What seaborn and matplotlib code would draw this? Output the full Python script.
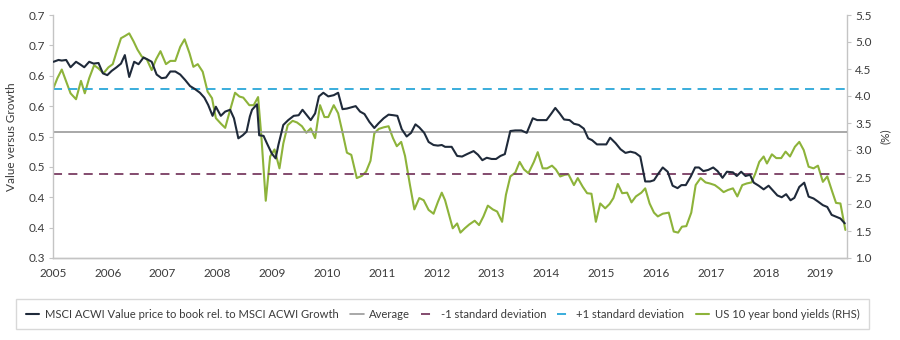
import numpy as np
import pandas as pd
import matplotlib
matplotlib.use("Agg")
import matplotlib.pyplot as plt
import seaborn as sns

# MSCI ACWI Value price-to-book relative to MSCI ACWI Growth (decimal year, ratio)
val_years = [
    2005.01, 2005.10, 2005.16, 2005.24, 2005.32, 2005.42, 2005.49, 2005.57, 2005.66, 2005.74,
    2005.83, 2005.91, 2005.99, 2006.07, 2006.16, 2006.24, 2006.31, 2006.39, 2006.48, 2006.56,
    2006.65, 2006.72, 2006.80, 2006.89, 2006.98, 2007.06, 2007.14, 2007.23, 2007.32, 2007.41,
    2007.50, 2007.59, 2007.68, 2007.76, 2007.83, 2007.91, 2007.97, 2008.06, 2008.14, 2008.23,
    2008.30, 2008.38, 2008.46, 2008.53, 2008.59, 2008.63, 2008.72, 2008.76, 2008.84, 2008.90,
    2008.99, 2009.06, 2009.11, 2009.20, 2009.29, 2009.39, 2009.48, 2009.55, 2009.63, 2009.70,
    2009.78, 2009.85, 2009.93, 2010.02, 2010.12, 2010.20, 2010.28, 2010.36, 2010.44, 2010.52,
    2010.60, 2010.68, 2010.77, 2010.86, 2010.94, 2011.03, 2011.12, 2011.21, 2011.28, 2011.36,
    2011.45, 2011.53, 2011.61, 2011.68, 2011.77, 2011.85, 2011.94, 2012.02, 2012.09, 2012.15,
    2012.27, 2012.37, 2012.46, 2012.55, 2012.67, 2012.75, 2012.83, 2012.91, 2013.00, 2013.08,
    2013.16, 2013.24, 2013.34, 2013.43, 2013.54, 2013.64, 2013.75, 2013.83, 2013.92, 2014.00,
    2014.09, 2014.16, 2014.24, 2014.32, 2014.42, 2014.50, 2014.59, 2014.68, 2014.76, 2014.83,
    2014.92, 2015.01, 2015.09, 2015.16, 2015.26, 2015.35, 2015.44, 2015.53, 2015.62, 2015.71,
    2015.80, 2015.89, 2015.96, 2016.04, 2016.12, 2016.21, 2016.30, 2016.39, 2016.46, 2016.54,
    2016.63, 2016.71, 2016.78, 2016.86, 2016.95, 2017.04, 2017.12, 2017.21, 2017.29, 2017.40,
    2017.47, 2017.55, 2017.63, 2017.71, 2017.78, 2017.87, 2017.96, 2018.05, 2018.13, 2018.21,
    2018.29, 2018.37, 2018.45, 2018.52, 2018.61, 2018.70, 2018.78, 2018.87, 2018.95, 2019.04,
    2019.12, 2019.20, 2019.28, 2019.36, 2019.44,
]
val_ratio = [
    0.623, 0.626, 0.625, 0.626, 0.614, 0.623, 0.619, 0.614, 0.623, 0.620,
    0.621, 0.604, 0.601, 0.608, 0.614, 0.620, 0.634, 0.598, 0.623, 0.619,
    0.630, 0.627, 0.623, 0.602, 0.596, 0.597, 0.607, 0.607, 0.602, 0.593,
    0.583, 0.578, 0.572, 0.564, 0.552, 0.534, 0.549, 0.534, 0.541, 0.544,
    0.530, 0.497, 0.502, 0.508, 0.533, 0.544, 0.553, 0.502, 0.501, 0.489,
    0.472, 0.464, 0.486, 0.519, 0.527, 0.534, 0.535, 0.544, 0.535, 0.527,
    0.538, 0.566, 0.572, 0.566, 0.568, 0.572, 0.545, 0.546, 0.548, 0.550,
    0.541, 0.537, 0.524, 0.514, 0.522, 0.530, 0.536, 0.535, 0.534, 0.512,
    0.500, 0.506, 0.520, 0.515, 0.506, 0.491, 0.486, 0.485, 0.486, 0.483,
    0.483, 0.468, 0.467, 0.471, 0.476, 0.470, 0.461, 0.465, 0.463, 0.463,
    0.468, 0.471, 0.509, 0.510, 0.510, 0.506, 0.530, 0.527, 0.527, 0.527,
    0.538, 0.547, 0.538, 0.528, 0.527, 0.521, 0.519, 0.513, 0.497, 0.494,
    0.487, 0.487, 0.487, 0.498, 0.489, 0.479, 0.473, 0.475, 0.473, 0.467,
    0.426, 0.426, 0.428, 0.439, 0.449, 0.442, 0.419, 0.415, 0.420, 0.420,
    0.434, 0.449, 0.449, 0.443, 0.445, 0.449, 0.443, 0.432, 0.442, 0.441,
    0.435, 0.442, 0.435, 0.437, 0.424, 0.419, 0.413, 0.419, 0.411, 0.403,
    0.400, 0.405, 0.395, 0.399, 0.417, 0.424, 0.401, 0.398, 0.393, 0.387,
    0.384, 0.371, 0.368, 0.365, 0.357,
]

# US 10 year Treasury yield, % (decimal year, yield)
bond_years = [
    2005.01, 2005.08, 2005.16, 2005.24, 2005.32, 2005.42, 2005.51, 2005.58, 2005.66, 2005.75,
    2005.83, 2005.92, 2006.01, 2006.09, 2006.16, 2006.24, 2006.31, 2006.39, 2006.47, 2006.54,
    2006.62, 2006.71, 2006.80, 2006.88, 2006.96, 2007.06, 2007.14, 2007.23, 2007.32, 2007.40,
    2007.49, 2007.56, 2007.64, 2007.73, 2007.82, 2007.90, 2007.97, 2008.06, 2008.14, 2008.23,
    2008.32, 2008.40, 2008.47, 2008.58, 2008.66, 2008.74, 2008.80, 2008.88, 2008.96, 2009.04,
    2009.13, 2009.20, 2009.28, 2009.37, 2009.45, 2009.54, 2009.62, 2009.70, 2009.78, 2009.87,
    2009.95, 2010.02, 2010.12, 2010.20, 2010.27, 2010.36, 2010.44, 2010.54, 2010.63, 2010.71,
    2010.79, 2010.86, 2010.94, 2011.03, 2011.12, 2011.20, 2011.27, 2011.35, 2011.42, 2011.51,
    2011.59, 2011.68, 2011.76, 2011.85, 2011.94, 2012.02, 2012.09, 2012.15, 2012.23, 2012.29,
    2012.37, 2012.43, 2012.51, 2012.59, 2012.69, 2012.77, 2012.85, 2012.93, 2013.02, 2013.10,
    2013.19, 2013.26, 2013.34, 2013.43, 2013.51, 2013.59, 2013.67, 2013.77, 2013.84, 2013.93,
    2014.01, 2014.10, 2014.17, 2014.25, 2014.33, 2014.40, 2014.50, 2014.57, 2014.66, 2014.74,
    2014.82, 2014.90, 2014.98, 2015.07, 2015.15, 2015.22, 2015.30, 2015.38, 2015.47, 2015.55,
    2015.63, 2015.73, 2015.80, 2015.88, 2015.96, 2016.03, 2016.12, 2016.23, 2016.32, 2016.40,
    2016.47, 2016.55, 2016.64, 2016.72, 2016.81, 2016.90, 2016.98, 2017.07, 2017.15, 2017.23,
    2017.31, 2017.40, 2017.48, 2017.57, 2017.65, 2017.74, 2017.81, 2017.88, 2017.96, 2018.02,
    2018.11, 2018.19, 2018.28, 2018.36, 2018.44, 2018.53, 2018.61, 2018.69, 2018.78, 2018.87,
    2018.95, 2019.04, 2019.12, 2019.21, 2019.28, 2019.36, 2019.45,
]
bond_yield = [
    4.15, 4.33, 4.49, 4.27, 4.05, 3.94, 4.28, 4.05, 4.33, 4.57,
    4.51, 4.42, 4.53, 4.59, 4.82, 5.07, 5.11, 5.16, 5.01, 4.86,
    4.73, 4.68, 4.48, 4.68, 4.83, 4.59, 4.65, 4.65, 4.91, 5.05,
    4.79, 4.54, 4.59, 4.45, 4.08, 3.96, 3.59, 3.49, 3.41, 3.74,
    4.06, 3.99, 3.97, 3.83, 3.83, 3.98, 3.25, 2.06, 2.88, 3.01,
    2.66, 3.12, 3.46, 3.54, 3.51, 3.44, 3.32, 3.40, 3.22, 3.83,
    3.61, 3.61, 3.83, 3.68, 3.37, 2.95, 2.91, 2.48, 2.52, 2.60,
    2.80, 3.31, 3.39, 3.42, 3.44, 3.22, 3.07, 3.15, 2.89, 2.35,
    1.90, 2.11, 2.07, 1.89, 1.82, 2.04, 2.21, 2.07, 1.77, 1.55,
    1.64, 1.47, 1.55, 1.62, 1.69, 1.61, 1.77, 1.97, 1.90, 1.86,
    1.67, 2.17, 2.51, 2.58, 2.78, 2.64, 2.57, 2.78, 2.96, 2.66,
    2.66, 2.71, 2.64, 2.51, 2.54, 2.55, 2.35, 2.48, 2.32, 2.20,
    2.19, 1.67, 2.01, 1.92, 2.00, 2.11, 2.37, 2.20, 2.21, 2.03,
    2.14, 2.21, 2.29, 2.01, 1.84, 1.77, 1.82, 1.84, 1.49, 1.47,
    1.58, 1.59, 1.84, 2.35, 2.48, 2.40, 2.38, 2.35, 2.29, 2.22,
    2.26, 2.29, 2.14, 2.35, 2.38, 2.40, 2.57, 2.78, 2.88, 2.75,
    2.92, 2.85, 2.85, 2.97, 2.88, 3.06, 3.15, 3.00, 2.69, 2.66,
    2.71, 2.41, 2.51, 2.23, 2.02, 2.01, 1.52,
]

# Long-run average of the ratio and one standard deviation either side
ratio_average = 0.508
ratio_std = 0.070

year_ticks = list(range(2005, 2020))
left_ticks = [0.30, 0.35, 0.40, 0.45, 0.50, 0.55, 0.60, 0.65, 0.70]
left_tick_labels = ["0.3", "0.4", "0.4", "0.5", "0.5", "0.6", "0.6", "0.7", "0.7"]
right_ticks = [1.0, 1.5, 2.0, 2.5, 3.0, 3.5, 4.0, 4.5, 5.0, 5.5]

labels = [
    "MSCI ACWI Value price to book rel. to MSCI ACWI Growth",
    "Average",
    "-1 standard deviation",
    "+1 standard deviation",
    "US 10 year bond yields (RHS)",
]

NAVY = "#1f2a3a"
GREEN = "#8db33a"
GREY = "#9a9a9a"
PLUM = "#7a3d62"
CYAN = "#2aa7d9"
SPINE = "#c4c4c4"
TEXT = "#3b3b3b"

sns.set_theme(style="white")
plt.rcParams["font.family"] = ["Lato", "DejaVu Sans"]

ratio_df = pd.DataFrame({"year": val_years, "ratio": val_ratio})
bond_df = pd.DataFrame({"year": bond_years, "yield": bond_yield})

fig = plt.figure(figsize=(9, 3.4), dpi=100)
ax = fig.add_axes([53 / 900, 1 - 258 / 340, (847 - 53) / 900, (258 - 15) / 340])
ax2 = ax.twinx()

# reference lines for the ratio
ax.axhline(ratio_average, color=GREY, lw=1.2, label=labels[1], zorder=1)
ax.axhline(ratio_average - ratio_std, color=PLUM, lw=1.3,
           ls=(0, (5, 3.5)), label=labels[2], zorder=1)
ax.axhline(ratio_average + ratio_std, color=CYAN, lw=1.3,
           ls=(0, (5, 3.5)), label=labels[3], zorder=1)

sns.lineplot(data=bond_df, x="year", y="yield", ax=ax2, color=GREEN,
             lw=1.5, label=labels[4])
sns.lineplot(data=ratio_df, x="year", y="ratio", ax=ax, color=NAVY,
             lw=1.5, label=labels[0], zorder=3)

for a in (ax, ax2):
    if a.get_legend() is not None:
        a.get_legend().remove()

# draw the ratio axis above the yield axis
ax.set_zorder(ax2.get_zorder() + 1)
ax.patch.set_visible(False)

ax.set_xlim(2005, 2019.48)
ax.set_xticks(year_ticks)
ax.set_xticklabels([str(y) for y in year_ticks])
ax.set_ylim(0.30, 0.70)
ax.set_yticks(left_ticks)
ax.set_yticklabels(left_tick_labels)
ax2.set_ylim(1.0, 5.5)
ax2.set_yticks(right_ticks)
ax2.set_yticklabels([f"{t:.1f}" for t in right_ticks])

ax.set_xlabel("")
ax.set_ylabel("Value versus Growth", fontsize=8.5, color=TEXT, labelpad=8)
ax2.set_ylabel("(%)", fontsize=8.5, color=TEXT, labelpad=6)

for a in (ax, ax2):
    a.spines["top"].set_visible(False)
    for s in ("left", "right", "bottom"):
        a.spines[s].set_color(SPINE)
        a.spines[s].set_linewidth(1.0)
    a.tick_params(axis="both", length=3, width=0.8, color=SPINE,
                  labelcolor=TEXT, labelsize=8.5, pad=3)
ax.spines["right"].set_visible(False)
ax2.spines["left"].set_visible(False)
ax.tick_params(axis="x", pad=4)

h1, l1 = ax.get_legend_handles_labels()
h2, l2 = ax2.get_legend_handles_labels()
lookup = dict(zip(l1 + l2, h1 + h2))
fig.legend([lookup[l] for l in labels], labels, loc="center",
           bbox_to_anchor=(0.492, 0.076), ncol=5, frameon=True,
           fancybox=False, edgecolor="#cfcfcf", fontsize=8.1,
           handlelength=1.2, handletextpad=0.5, columnspacing=1.0,
           borderpad=0.85, borderaxespad=0, labelcolor=TEXT)

fig.savefig("out.png", dpi=100)
